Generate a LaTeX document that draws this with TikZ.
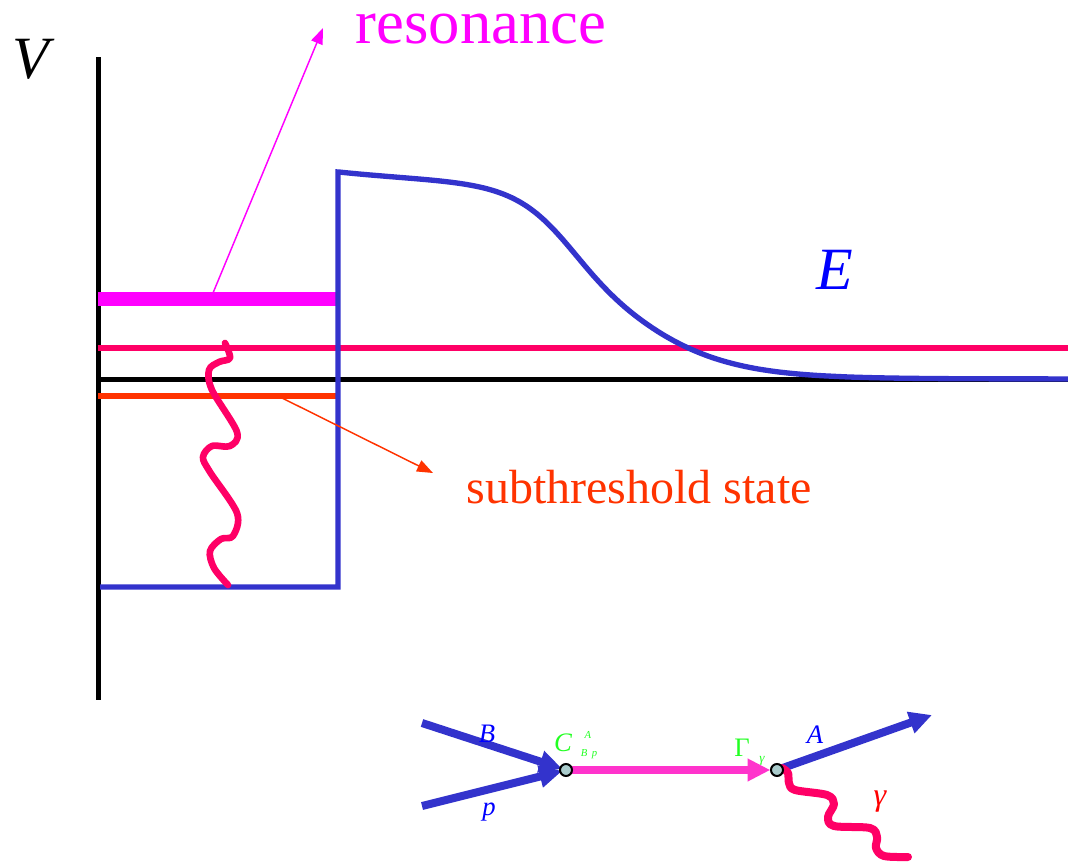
\documentclass[tikz,border=0pt]{standalone}
\usepackage{fontspec}
\setmainfont{Liberation Serif}
\usetikzlibrary{arrows.meta}
\definecolor{wellblue}{HTML}{3333CC}
\definecolor{textblue}{HTML}{0000FF}
\definecolor{resmag}{HTML}{FF00FF}
\definecolor{photon}{HTML}{FF0066}
\definecolor{subred}{HTML}{FF3300}
\definecolor{propmag}{HTML}{FF33CC}
\definecolor{vgreen}{HTML}{22FF22}
\definecolor{vertexfill}{HTML}{AACCCC}

\begin{document}
\begin{tikzpicture}[
x=0.75pt,y=-0.75pt,
axis/.style={line width=3.75pt,line cap=rect},
level/.style={line width=4pt},
wave/.style={line width=5pt,color=photon,line cap=round,line join=round},
pointer/.style={-{Triangle[length=12pt,width=9pt]},line width=1.1pt},
leg/.style={-{Triangle[length=17pt,width=16pt]},line width=6pt},
vertex/.style={circle,draw,line width=1.5pt,fill=vertexfill,inner sep=0pt,minimum size=9pt},
big/.style={font=\fontsize{45}{50}\selectfont\itshape,inner sep=0pt},
lbl/.style={font=\fontsize{20}{22}\selectfont\itshape,inner sep=0pt},
tiny/.style={font=\fontsize{8}{9}\selectfont\itshape,inner sep=0pt,color=vgreen},
declare function={
  fall(\t)=1/(1+exp(-(\t-598)/(35+20/(1+exp(-(\t-598)/30)))));
  barrier(\t)=172+207*fall(\t)+12*(1-exp(-(\t-340)/120))*(1-fall(\t));}
]
\useasboundingbox (0,0) rectangle (1068,863);
% axes
\draw[axis] (98,60) -- (98,697);
\draw[axis] (98,379) -- (1068,379);
\node[big] (vlabel) at (31,59) {V};
% levels
\draw[line width=11pt,color=resmag] (98,299) -- (338,299);
\draw[level,color=photon] (98,348) -- (1068,348);
\draw[level,color=subred] (98,396) -- (338,396);
% potential
\draw[line width=4pt,color=wellblue,line join=miter] (100,587) -- (338,587) -- (338,172)
  -- plot[domain=340:1068,samples=90,smooth] (\x,{barrier(\x)});
\node[big,color=textblue] (elabel) at (835,270) {E};
% decay in the well
\draw[wave] plot[smooth,tension=0.55] coordinates {(225,343) (230,358) (219,362) (209,370) (212,390) (237,432) (230,446) (212,446) (203,457) (210,472) (237,513) (233,536) (221,539) (210,551) (214,568) (228,585)};
% labels with pointers
\node[font=\fontsize{47}{50}\selectfont,color=resmag,anchor=base,inner sep=0pt,text height=0.46em] (restext) at (481,44) {resonance};
\coordinate (resfoot) at (213,293);
\coordinate (restip) at (323,28);
\draw[pointer,color=resmag] (resfoot) -- (restip);
\node[font=\fontsize{36}{40}\selectfont,color=subred,anchor=base,inner sep=0pt] (subtext) at (639,503) {subthreshold state};
\coordinate (subfoot) at (280,397);
\coordinate (subtip) at (433,473);
\draw[pointer,color=subred] (subfoot) -- (subtip);
% reaction B + p -> C -> A + gamma
\coordinate (bstart) at (422,723);
\coordinate (pstart) at (422,806);
\coordinate (vin) at (566,770);
\coordinate (vout) at (777,770);
\coordinate (aend) at (932,715);
\draw[leg,color=wellblue,shorten >=3pt] (bstart) -- (vin);
\draw[leg,color=wellblue,shorten >=3pt] (pstart) -- (vin);
\draw[leg,color=propmag,shorten >=5pt] (vin) -- (vout);
\draw[leg,color=wellblue] (vout) -- (aend);
\draw[wave,line width=6pt] plot[smooth,tension=0.55] coordinates {(782,768) (788,773) (789,783) (795,790) (827,795) (834,804) (828,817) (834,826) (870,828) (877,837) (876,848) (884,856) (908,857)};
\node[vertex] (vinnode) at (vin) {};
\node[vertex] (voutnode) at (vout) {};
\node[lbl,color=textblue] (blabel) at (487,734) {B};
\node[lbl,color=textblue] (plabel) at (489,812) {p};
\node[lbl,color=textblue] (alabel) at (815,735) {A};
\node[lbl,color=vgreen] (clabel) at (563,743) {C};
\node[tiny] (csup) at (588,735) {A};
\node[tiny] (csub) at (589,754) {B\, p};
\node[font=\fontsize{20}{22}\selectfont,inner sep=0pt,color=vgreen] (glabel) at (742,748) {Γ};
\node[tiny,font=\fontsize{10}{11}\selectfont\itshape] (gsub) at (762,761) {γ};
\node[font=\fontsize{24}{26}\selectfont\itshape,inner sep=0pt,color=red] (gammalabel) at (880,802) {γ};
\end{tikzpicture}
\end{document}
